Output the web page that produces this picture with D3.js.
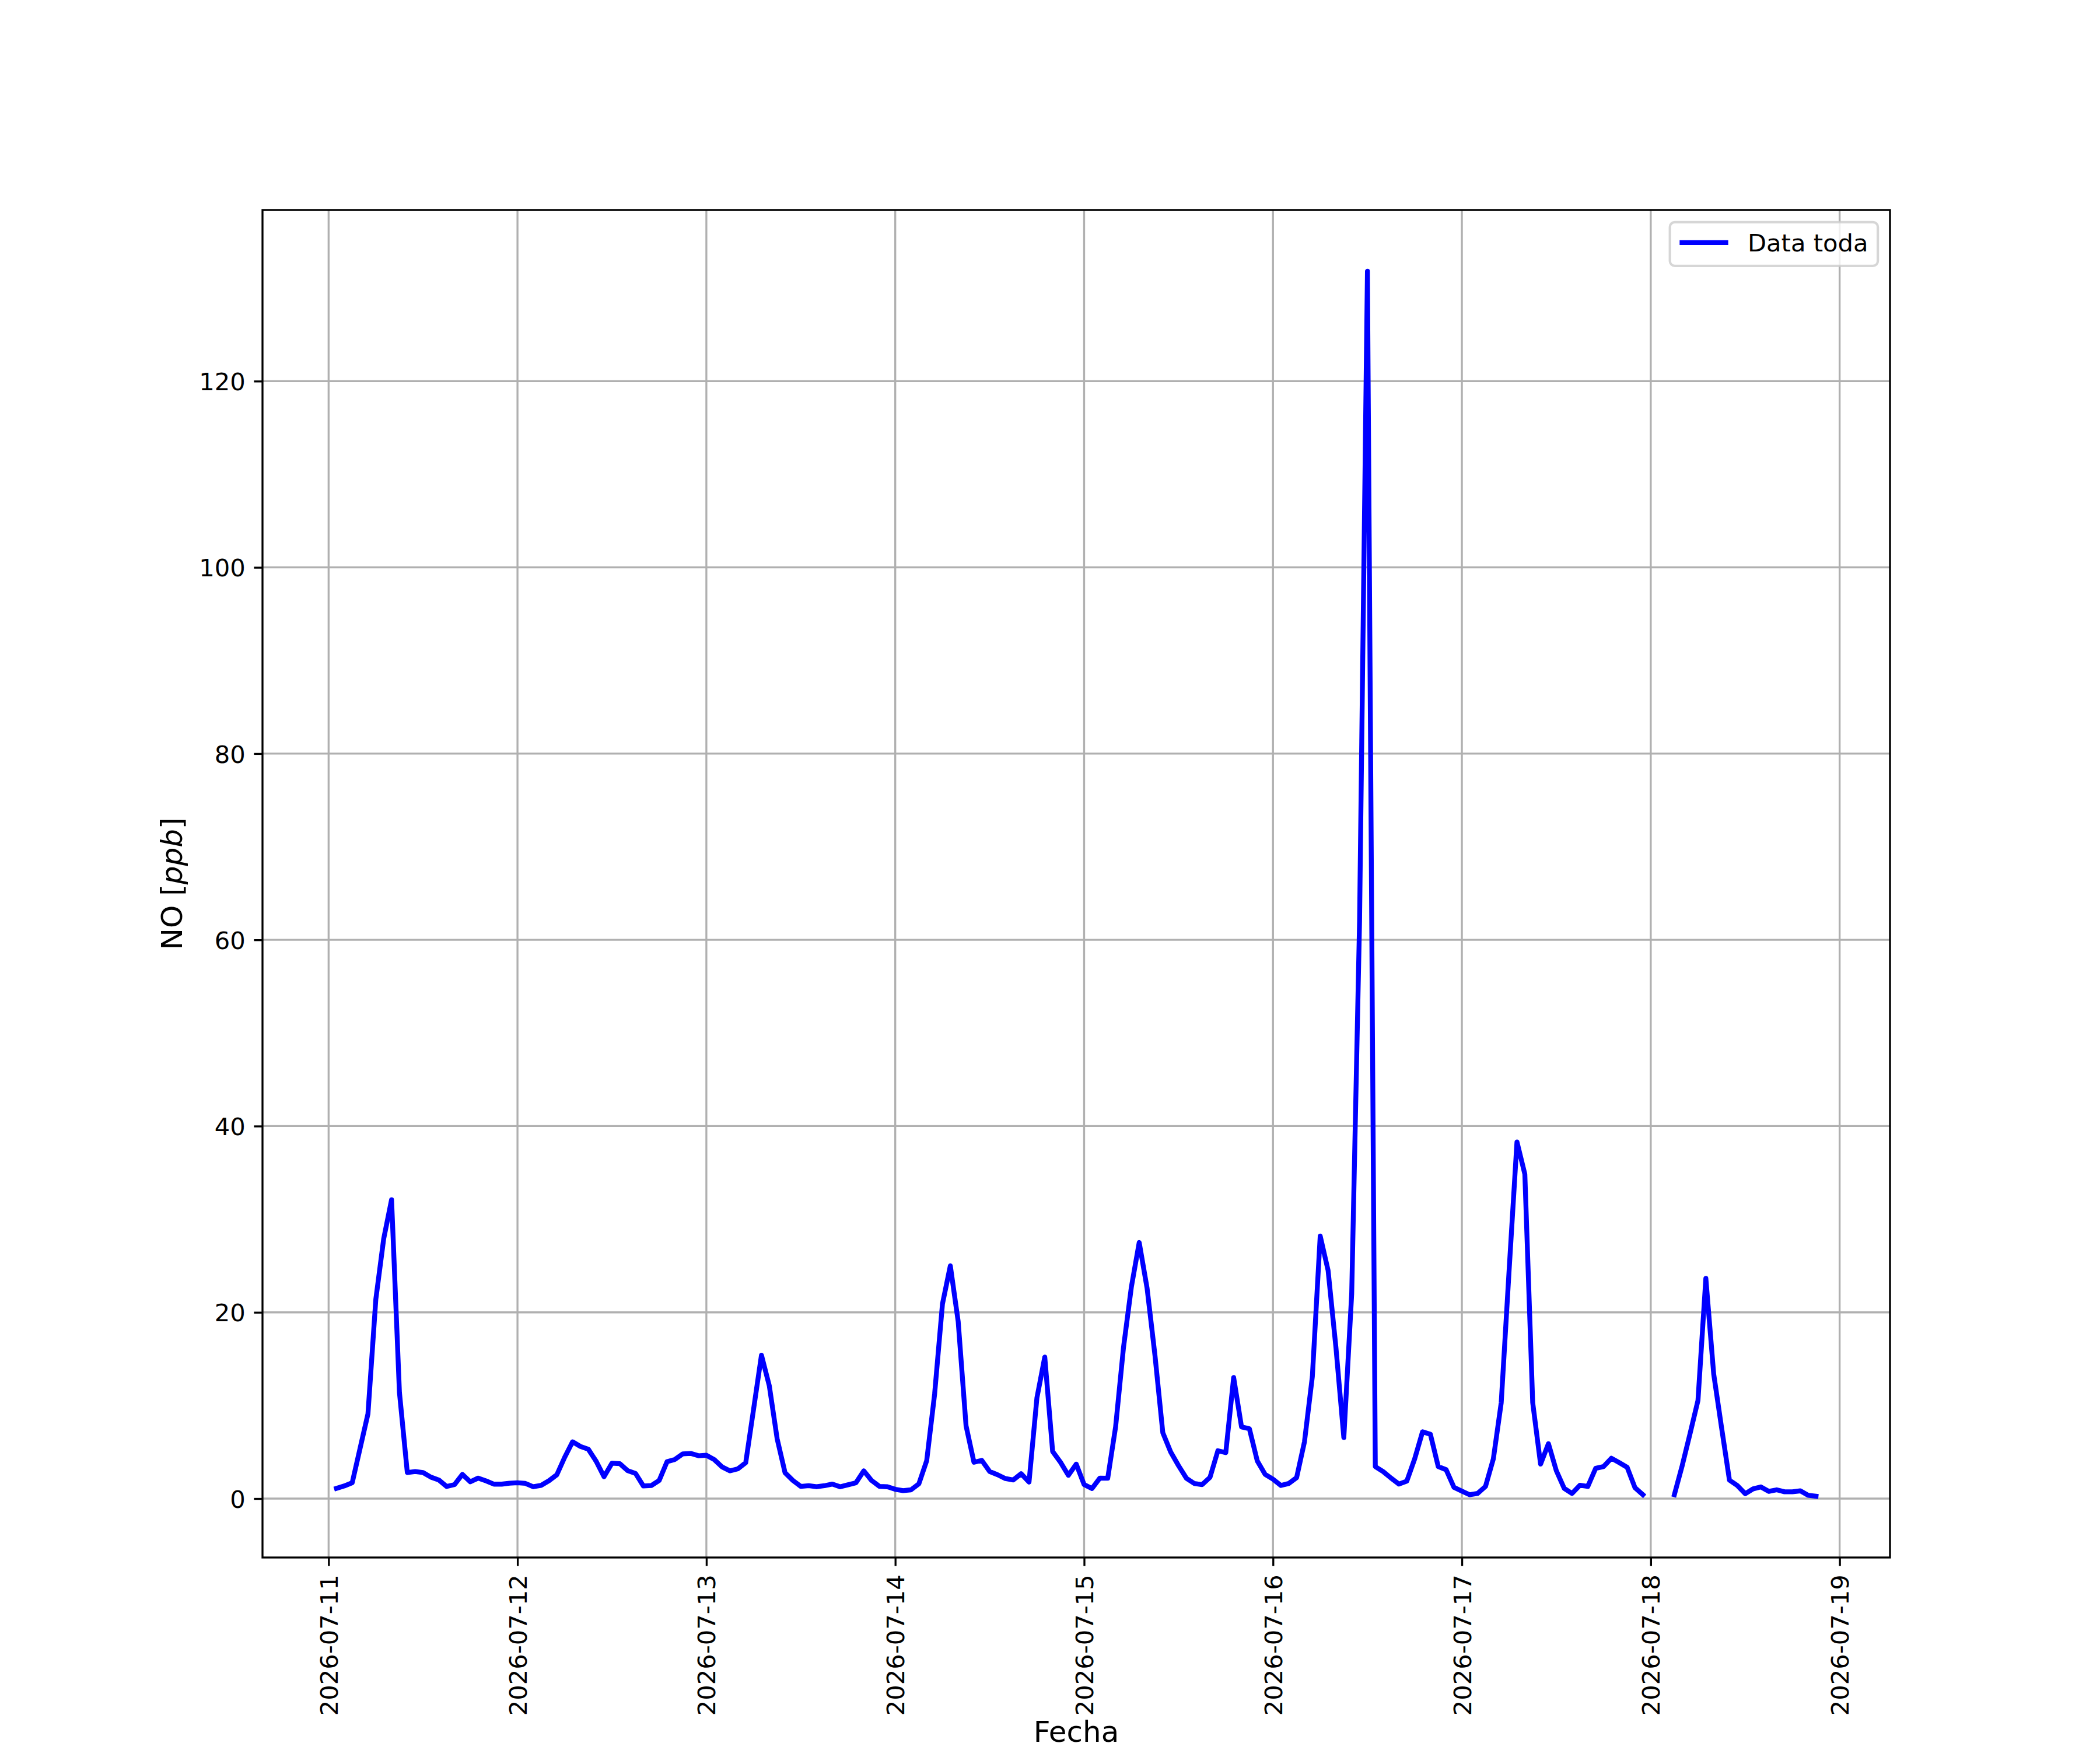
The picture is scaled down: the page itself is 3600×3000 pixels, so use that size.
<!DOCTYPE html>
<html>
<head>
<meta charset="utf-8">
<script src="https://cdn.jsdelivr.net/npm/d3@7/dist/d3.min.js"></script>
<style>
  html, body { margin: 0; padding: 0; background: #ffffff; }
  svg { display: block; }
  text { font-family: "DejaVu Sans", "Liberation Sans", sans-serif; fill: #000; }
</style>
</head>
<body>
<svg id="chart" width="3600" height="3000"></svg>
<script>
// ---------------- DATA (hourly NO values, ppb) ----------------
const startTime = "2026-07-11T01:00:00Z";   // first hourly reading
const seriesName = "Data toda";
// 07-11 01:00 .. 23:00
const day11 = [1.1, 1.36, 1.7, 5.4, 9.1, 21.4, 27.9, 32.1, 11.4, 2.8, 2.9, 2.8, 2.3, 2.0, 1.3, 1.5, 2.6, 1.8, 2.2, 1.9, 1.55, 1.55, 1.65];
// 07-12 00:00 .. 23:00
const day12 = [1.7, 1.63, 1.27, 1.42, 1.92, 2.56, 4.44, 6.1, 5.6, 5.3, 4.0, 2.35, 3.8, 3.75, 3.0, 2.7, 1.35, 1.4, 1.94, 3.96, 4.2, 4.8, 4.85, 4.6];
// 07-13
const day13 = [4.65, 4.19, 3.4, 2.98, 3.19, 3.85, 9.6, 15.4, 12.1, 6.4, 2.77, 1.94, 1.31, 1.38, 1.27, 1.38, 1.56, 1.27, 1.48, 1.69, 2.98, 1.94, 1.31, 1.27];
// 07-14
const day14 = [1.0, 0.85, 0.94, 1.58, 4.08, 11.2, 20.9, 25.0, 19.0, 7.8, 3.9, 4.1, 2.9, 2.56, 2.15, 2.0, 2.67, 1.77, 10.8, 15.2, 5.06, 3.9, 2.5, 3.7];
// 07-15
const day15 = [1.5, 1.08, 2.2, 2.18, 7.7, 16.2, 22.7, 27.5, 22.6, 15.4, 7.07, 5.0, 3.53, 2.18, 1.62, 1.5, 2.29, 5.14, 4.93, 13.0, 7.7, 7.5, 4.05, 2.6];
// 07-16
const day16 = [2.08, 1.41, 1.62, 2.25, 6.1, 13.1, 28.2, 24.5, 16.2, 6.55, 22.0, 62.0, 131.8, 3.43, 2.9, 2.2, 1.56, 1.87, 4.26, 7.17, 6.9, 3.43, 3.1, 1.2];
// 07-17
const day17 = [0.8, 0.41, 0.55, 1.3, 4.27, 10.3, 24.5, 38.3, 34.85, 10.3, 3.7, 5.9, 3.0, 1.1, 0.55, 1.43, 1.3, 3.25, 3.44, 4.33, 3.86, 3.36, 1.16, 0.41];
// 07-18 00:00 .. 21:00 (00-02 missing)
const day18 = [null, null, null, 0.42, 3.55, 7.0, 10.54, 23.65, 13.36, 7.6, 1.98, 1.4, 0.52, 1.04, 1.25, 0.77, 0.94, 0.73, 0.73, 0.83, 0.35, 0.25];

const yTicks = [0, 20, 40, 60, 80, 100, 120];
const xTickLabels = ["2026-07-11", "2026-07-12", "2026-07-13", "2026-07-14", "2026-07-15", "2026-07-16", "2026-07-17", "2026-07-18", "2026-07-19"];
const xLabel = "Fecha";
const yLabelPlain = "NO [";
const yLabelItalic = "ppb";
const yLabelEnd = "]";

// ---------------- BUILD SERIES ----------------
const allValues = [].concat(day11, day12, day13, day14, day15, day16, day17, day18);
const t0 = new Date(startTime).getTime();
const HOUR = 3600 * 1000;
const data = allValues.map((v, i) => ({ t: new Date(t0 + i * HOUR), v: v }));

// ---------------- LAYOUT (matplotlib 12x10in @300dpi) ----------------
const W = 3600, H = 3000;
const pt = 300 / 72;
const ax = { left: 0.125 * W, right: 0.9 * W, top: (1 - 0.88) * H, bottom: (1 - 0.11) * H };
const tickFont = 10 * pt, labelFont = 12 * pt;
const tickLen = 3.5 * pt, tickPad = 3.5 * pt;
const spineW = 0.8 * pt, gridW = 0.8 * pt, lineW = 2 * pt;

const svg = d3.select("#chart");
svg.append("rect").attr("width", W).attr("height", H).attr("fill", "#fff");

// scales with matplotlib-like 5% margins
const tExt = d3.extent(data, d => d.t.getTime());
const tSpan = tExt[1] - tExt[0];
const valid = data.filter(d => d.v !== null);
const vExt = d3.extent(valid, d => d.v);
const vSpan = vExt[1] - vExt[0];

const x = d3.scaleUtc()
  .domain([new Date(tExt[0] - 0.05 * tSpan), new Date(tExt[1] + 0.05 * tSpan)])
  .range([ax.left, ax.right]);
const y = d3.scaleLinear()
  .domain([vExt[0] - 0.05 * vSpan, vExt[1] + 0.05 * vSpan])
  .range([ax.bottom, ax.top]);

const xTickDates = xTickLabels.map(s => new Date(s + "T00:00:00Z"));

// ---------------- GRID ----------------
const grid = svg.append("g");
grid.selectAll("line.gx").data(xTickDates).enter().append("line")
  .attr("x1", d => x(d)).attr("x2", d => x(d))
  .attr("y1", ax.top).attr("y2", ax.bottom)
  .attr("stroke", "#b0b0b0").attr("stroke-width", gridW);
grid.selectAll("line.gy").data(yTicks).enter().append("line")
  .attr("x1", ax.left).attr("x2", ax.right)
  .attr("y1", d => y(d)).attr("y2", d => y(d))
  .attr("stroke", "#b0b0b0").attr("stroke-width", gridW);

// ---------------- LINE ----------------
svg.append("clipPath").attr("id", "axclip").append("rect")
  .attr("x", ax.left).attr("y", ax.top)
  .attr("width", ax.right - ax.left).attr("height", ax.bottom - ax.top);

const line = d3.line()
  .defined(d => d.v !== null)
  .x(d => x(d.t))
  .y(d => y(d.v));

svg.append("path")
  .datum(data)
  .attr("clip-path", "url(#axclip)")
  .attr("d", line)
  .attr("fill", "none")
  .attr("stroke", "#0000ff")
  .attr("stroke-width", lineW)
  .attr("stroke-linejoin", "round")
  .attr("stroke-linecap", "square");

// ---------------- AXES ----------------
const yAxis = d3.axisLeft(y).tickValues(yTicks).tickSize(tickLen).tickPadding(tickPad).tickFormat(d3.format("d"));
const gy = svg.append("g").attr("transform", `translate(${ax.left},0)`).call(yAxis);
gy.select(".domain").remove();
gy.selectAll(".tick line").attr("stroke", "#000").attr("stroke-width", spineW);
gy.selectAll(".tick text")
  .attr("font-size", tickFont)
  .attr("font-family", "DejaVu Sans")
  .attr("fill", "#000")
  .attr("dy", "0.365em");

const xAxis = d3.axisBottom(x).tickValues(xTickDates).tickSize(tickLen).tickPadding(tickPad)
  .tickFormat(d3.utcFormat("%Y-%m-%d"));
const gx = svg.append("g").attr("transform", `translate(0,${ax.bottom})`).call(xAxis);
gx.select(".domain").remove();
gx.selectAll(".tick line").attr("stroke", "#000").attr("stroke-width", spineW);
gx.selectAll(".tick text")
  .attr("font-size", tickFont)
  .attr("font-family", "DejaVu Sans")
  .attr("fill", "#000")
  .attr("transform", "rotate(-90)")
  .attr("text-anchor", "end")
  .attr("x", -(tickLen + tickPad))
  .attr("y", 0)
  .attr("dy", "0.36em");

// spines
svg.append("rect")
  .attr("x", ax.left).attr("y", ax.top)
  .attr("width", ax.right - ax.left).attr("height", ax.bottom - ax.top)
  .attr("fill", "none").attr("stroke", "#000").attr("stroke-width", spineW);

// ---------------- AXIS LABELS ----------------
svg.append("text")
  .attr("x", (ax.left + ax.right) / 2)
  .attr("y", 2986)
  .attr("text-anchor", "middle")
  .attr("font-size", labelFont)
  .text(xLabel);

const yl = svg.append("text")
  .attr("transform", `translate(312,${(ax.top + ax.bottom) / 2}) rotate(-90)`)
  .attr("text-anchor", "middle")
  .attr("font-size", labelFont);
yl.append("tspan").text(yLabelPlain);
yl.append("tspan").attr("font-style", "italic").text(yLabelItalic);
yl.append("tspan").text(yLabelEnd);

// ---------------- LEGEND ----------------
const fs = tickFont;
const borderPad = 0.4 * fs, handleLen = 2.0 * fs, handlePad = 0.8 * fs, axPad = 0.5 * fs;
const lg = svg.append("g");
const boxRect = lg.append("rect");
const boxRight = ax.right - axPad, boxTop = ax.top + axPad;
const legText = lg.append("text")
  .attr("font-size", fs)
  .text(seriesName);
const tw = legText.node().getComputedTextLength();
const boxW = borderPad * 2 + handleLen + handlePad + tw;
const boxH = 75;
const boxLeft = boxRight - boxW;
boxRect
  .attr("x", boxLeft).attr("y", boxTop)
  .attr("width", boxW).attr("height", boxH)
  .attr("rx", 0.2 * fs).attr("ry", 0.2 * fs)
  .attr("fill", "#ffffff").attr("fill-opacity", 0.8)
  .attr("stroke", "#cccccc").attr("stroke-opacity", 0.8)
  .attr("stroke-width", 1.0 * pt);
lg.append("line")
  .attr("x1", boxLeft + borderPad).attr("x2", boxLeft + borderPad + handleLen)
  .attr("y1", boxTop + 35).attr("y2", boxTop + 35)
  .attr("stroke", "#0000ff").attr("stroke-width", lineW)
  .attr("stroke-linecap", "butt");
legText
  .attr("x", boxLeft + borderPad + handleLen + handlePad)
  .attr("y", boxTop + 50);
lg.raise();
</script>
</body>
</html>
